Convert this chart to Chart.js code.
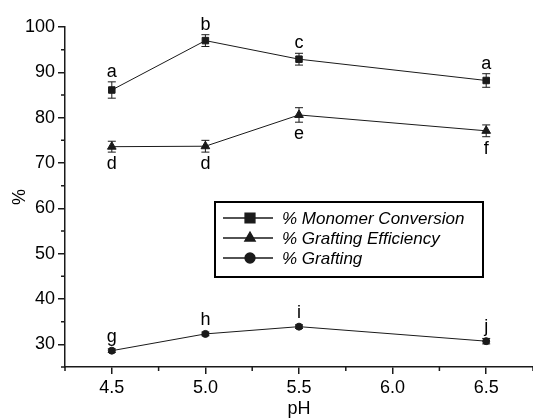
<!DOCTYPE html>
<html>
<head>
<meta charset="utf-8">
<script src="https://cdn.jsdelivr.net/npm/chart.js@4"></script>
<style>
  html, body { margin: 0; padding: 0; background: #fff; }
  #wrap { width: 533px; height: 418px; }
</style>
</head>
<body>
<div id="wrap"><canvas id="phChart" width="533" height="418"></canvas></div>
<script>
const phValues = [4.5, 5.0, 5.5, 6.5];
const monomerConversion = [86.1, 97.0, 92.9, 88.2];
const monomerErr = [1.8, 1.3, 1.3, 1.5];
const graftingEfficiency = [73.6, 73.7, 80.6, 77.1];
const efficiencyErr = [1.2, 1.3, 1.6, 1.3];
const grafting = [28.6, 32.3, 33.9, 30.7];
const graftingErr = [0.4, 0.4, 0.4, 0.6];
const monomerLetters = ['a', 'b', 'c', 'a'];
const efficiencyLetters = ['d', 'd', 'e', 'f'];
const graftingLetters = ['g', 'h', 'i', 'j'];
const xTicks = [4.5, 5.0, 5.5, 6.0, 6.5];
const xMinorTicks = [4.25, 4.75, 5.25, 5.75, 6.25, 6.75];
const yTicks = [30, 40, 50, 60, 70, 80, 90, 100];
const yMinorTicks = [25, 35, 45, 55, 65, 75, 85, 95];

const FONT = 'Liberation Sans, Arial, Helvetica, sans-serif';
const INK = '#1a1a1a';

function toPoints(ys) {
  return phValues.map((x, i) => ({ x, y: ys[i] }));
}

function makeSeries(label, ys, errs, letters, letterPos, style, radius) {
  return {
    label,
    data: toPoints(ys),
    errors: errs,
    letters,
    letterPos,
    borderColor: INK,
    borderWidth: 1,
    backgroundColor: INK,
    pointStyle: style,
    pointRadius: radius,
    pointBackgroundColor: INK,
    pointBorderColor: INK,
    pointBorderWidth: 1,
    tension: 0
  };
}

// error bars under the markers
const errorBars = {
  id: 'errorBars',
  beforeDatasetsDraw(chart) {
    const { ctx, scales: { x, y } } = chart;
    ctx.save();
    ctx.strokeStyle = INK;
    ctx.lineWidth = 1;
    chart.data.datasets.forEach(ds => {
      ds.data.forEach((p, i) => {
        const px = x.getPixelForValue(p.x);
        const top = y.getPixelForValue(p.y + ds.errors[i]);
        const bot = y.getPixelForValue(p.y - ds.errors[i]);
        ctx.beginPath();
        ctx.moveTo(px, top); ctx.lineTo(px, bot);
        ctx.moveTo(px - 4, top); ctx.lineTo(px + 4, top);
        ctx.moveTo(px - 4, bot); ctx.lineTo(px + 4, bot);
        ctx.stroke();
      });
    });
    ctx.restore();
  }
};

// significance letters above / below each point
const letterLabels = {
  id: 'letterLabels',
  afterDatasetsDraw(chart) {
    const { ctx, scales: { x, y } } = chart;
    ctx.save();
    ctx.fillStyle = '#000';
    ctx.font = '18px ' + FONT;
    ctx.textAlign = 'center';
    ctx.textBaseline = 'alphabetic';
    chart.data.datasets.forEach(ds => {
      ds.data.forEach((p, i) => {
        const px = x.getPixelForValue(p.x);
        const py = y.getPixelForValue(p.y);
        if (ds.letterPos === 'above') {
          const top = Math.min(y.getPixelForValue(p.y + ds.errors[i]), py - 4);
          ctx.fillText(ds.letters[i], px, top - 5);
        } else {
          const bot = Math.max(y.getPixelForValue(p.y - ds.errors[i]), py + 4);
          ctx.fillText(ds.letters[i], px, bot + 17);
        }
      });
    });
    ctx.restore();
  }
};

// short minor ticks on both axes
const minorTicks = {
  id: 'minorTicks',
  afterDraw(chart) {
    const { ctx, scales: { x, y }, chartArea } = chart;
    ctx.save();
    ctx.strokeStyle = INK;
    ctx.lineWidth = 1.5;
    ctx.beginPath();
    xMinorTicks.forEach(v => {
      const px = x.getPixelForValue(v);
      ctx.moveTo(px, chartArea.bottom);
      ctx.lineTo(px, chartArea.bottom + 4);
    });
    yMinorTicks.forEach(v => {
      const py = y.getPixelForValue(v);
      ctx.moveTo(chartArea.left, py);
      ctx.lineTo(chartArea.left - 4, py);
    });
    ctx.stroke();
    ctx.restore();
  }
};

// boxed legend inside the plot
const boxLegend = {
  id: 'boxLegend',
  afterDraw(chart) {
    const { ctx } = chart;
    const left = 215, top = 202, w = 268, h = 75;
    const sizes = [5, 6, 5];
    ctx.save();
    ctx.strokeStyle = '#000';
    ctx.lineWidth = 2;
    ctx.strokeRect(left, top, w, h);
    chart.data.datasets.forEach((ds, i) => {
      const rowY = top + 16 + i * 20;
      ctx.strokeStyle = INK;
      ctx.lineWidth = 1.3;
      ctx.beginPath();
      ctx.moveTo(left + 8, rowY);
      ctx.lineTo(left + 58, rowY);
      ctx.stroke();
      ctx.fillStyle = INK;
      Chart.helpers.drawPoint(ctx, {
        pointStyle: ds.pointStyle, rotation: 0, radius: ds.pointStyle === 'rect' ? 7 : sizes[i], borderWidth: 1
      }, left + 35, rowY);
      ctx.fillStyle = '#000';
      ctx.font = 'italic 17px ' + FONT;
      ctx.textAlign = 'left';
      ctx.textBaseline = 'middle';
      ctx.fillText(ds.label, left + 67, rowY + 1);
    });
    ctx.restore();
  }
};

const axisFont = { family: FONT, size: 18 };

new Chart(document.getElementById('phChart'), {
  type: 'line',
  data: {
    datasets: [
      makeSeries('% Monomer Conversion', monomerConversion, monomerErr, monomerLetters, 'above', 'rect', 4.6),
      makeSeries('% Grafting Efficiency', graftingEfficiency, efficiencyErr, efficiencyLetters, 'below', 'triangle', 5),
      makeSeries('% Grafting', grafting, graftingErr, graftingLetters, 'above', 'circle', 3.5)
    ]
  },
  options: {
    responsive: false,
    animation: false,
    devicePixelRatio: 1,
    layout: { autoPadding: false, padding: { top: 27, right: 0, bottom: 0, left: 0 } },
    plugins: {
      legend: { display: false },
      tooltip: { enabled: false }
    },
    scales: {
      x: {
        type: 'linear',
        min: 4.25,
        max: 6.75,
        afterBuildTicks: s => { s.ticks = xTicks.map(v => ({ value: v })); },
        afterFit: s => { s.height = 51; },
        ticks: {
          callback: v => v.toFixed(1),
          font: axisFont,
          color: '#000',
          padding: 3,
          maxRotation: 0,
          autoSkip: false
        },
        grid: { drawOnChartArea: false, drawTicks: true, tickLength: 7, color: INK, lineWidth: 1.5 },
        border: { display: true, color: INK, width: 1.5 },
        title: { display: true, text: 'pH', color: '#000', font: { family: FONT, size: 18, lineHeight: 1 }, padding: 0 }
      },
      y: {
        min: 25,
        max: 100,
        afterBuildTicks: s => { s.ticks = yTicks.map(v => ({ value: v })); },
        afterFit: s => { s.width = 65; },
        ticks: { font: axisFont, color: '#000', padding: 3, autoSkip: false },
        grid: { drawOnChartArea: false, drawTicks: true, tickLength: 7, color: INK, lineWidth: 1.5 },
        border: { display: true, color: INK, width: 1.5 },
        title: { display: true, text: '%', color: '#000', font: { family: FONT, size: 18, lineHeight: 1 }, padding: { top: 11, bottom: 0 } }
      }
    }
  },
  plugins: [errorBars, letterLabels, minorTicks, boxLegend]
});
</script>
</body>
</html>
